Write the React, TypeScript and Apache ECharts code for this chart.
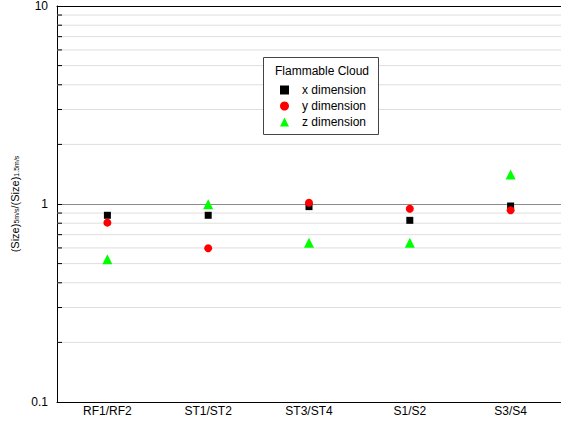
import React, { useEffect, useRef } from "react";
import * as echarts from "echarts";

const categories = ["RF1/RF2", "ST1/ST2", "ST3/ST4", "S1/S2", "S3/S4"];
const xDimension = [0.877, 0.877, 0.97, 0.827, 0.977];
const yDimension = [0.805, 0.598, 1.015, 0.947, 0.93];
const zDimension = [0.526, 0.996, 0.638, 0.638, 1.41];
const minorValues = [0.2, 0.3, 0.4, 0.5, 0.6, 0.7, 0.8, 0.9, 2, 3, 4, 5, 6, 7, 8, 9];
const legendTitle = "Flammable Cloud";

const FONT = "'Liberation Sans', Arial, sans-serif";

export default function App() {
  const ref = useRef<HTMLDivElement>(null);
  useEffect(() => {
    if (!ref.current) return;
    const chart = echarts.init(ref.current, null, { renderer: "svg" });
    chart.setOption({
      animation: false,
      textStyle: { fontFamily: FONT },
      grid: { left: 57, right: -1, top: 5, bottom: 24, containLabel: false },
      graphic: [
        {
          type: "rect",
          left: 263,
          top: 57,
          shape: { width: 115, height: 77 },
          style: { fill: "#fff", stroke: "#444", lineWidth: 1 },
          z: 10,
        },
        {
          type: "text",
          left: 275,
          top: 65,
          style: { text: legendTitle, fontSize: 12, fontFamily: FONT, fill: "#000" },
          z: 11,
        },
      ],
      legend: {
        orient: "vertical",
        left: 275,
        top: 79,
        itemWidth: 9,
        itemHeight: 9,
        itemGap: 4,
        z: 12,
        textStyle: { fontSize: 12, color: "#000", fontFamily: FONT, padding: [0, 0, 0, 8] },
        data: ["x dimension", "y dimension", "z dimension"],
      },
      xAxis: [
        {
          type: "category",
          data: categories,
          position: "bottom",
          axisLine: { lineStyle: { color: "#000" } },
          axisTick: { alignWithLabel: true, inside: true, length: 7, lineStyle: { color: "#000" } },
          axisLabel: { color: "#000", fontSize: 12, margin: 3, fontFamily: FONT },
          splitLine: { show: false },
        },
        {
          type: "category",
          data: categories,
          position: "bottom",
          axisLine: { show: false },
          axisTick: { alignWithLabel: false, inside: true, length: 4, lineStyle: { color: "#000" } },
          axisLabel: { show: false },
          splitLine: { show: false },
        },
        {
          type: "category",
          data: categories,
          position: "top",
          axisLine: { show: true, lineStyle: { color: "#000" } },
          axisTick: { alignWithLabel: true, inside: true, length: 7, lineStyle: { color: "#000" } },
          axisLabel: { show: false },
          splitLine: { show: false },
        },
      ],
      yAxis: {
        type: "log",
        logBase: 10,
        min: 0.1,
        max: 10,
        name: "{a|(Size)}{s|5m/s}{a|/(Size)}{s|1.5m/s}",
        nameLocation: "middle",
        nameRotate: 90,
        nameGap: 34,
        nameTextStyle: {
          rich: {
            a: { fontSize: 11, color: "#000", fontFamily: FONT, lineHeight: 15, verticalAlign: "bottom" },
            s: { fontSize: 7, color: "#000", fontFamily: FONT, lineHeight: 15, verticalAlign: "bottom" },
          },
        },
        axisLine: { show: true, lineStyle: { color: "#000" } },
        axisTick: { show: true, inside: true, length: 5, lineStyle: { color: "#000" } },
        axisLabel: {
          color: "#000",
          fontSize: 12,
          margin: 9,
          fontFamily: FONT,
          formatter: (v: number) => (v >= 10 ? "10" : v >= 1 ? "1" : "0.1"),
        },
        splitLine: { show: true, lineStyle: { color: "#8a8a8a", width: 1 } },
      },
      series: [
        {
          type: "custom",
          z: 1,
          silent: true,
          data: minorValues.map((v) => [0, v]),
          encode: { x: 0, y: 1 },
          renderItem: (params: any, api: any) => {
            const v = api.value(1);
            const y = api.coord([0, v])[1];
            const cs = params.coordSys;
            return {
              type: "group",
              children: [
                {
                  type: "line",
                  shape: { x1: cs.x, y1: y, x2: cs.x + cs.width, y2: y },
                  style: { stroke: "#dedede", lineWidth: 1 },
                },
                {
                  type: "line",
                  shape: { x1: cs.x, y1: y, x2: cs.x + 5, y2: y },
                  style: { stroke: "#000", lineWidth: 1 },
                },
              ],
            };
          },
        },
        {
          name: "x dimension",
          type: "scatter",
          z: 3,
          symbol: "rect",
          symbolSize: 7,
          itemStyle: { color: "#000000", opacity: 1 },
          data: xDimension,
        },
        {
          name: "y dimension",
          type: "scatter",
          z: 4,
          symbol: "circle",
          symbolSize: 8,
          itemStyle: { color: "#ff0000", opacity: 1 },
          data: yDimension,
        },
        {
          name: "z dimension",
          type: "scatter",
          z: 5,
          symbol: "triangle",
          symbolSize: 10,
          itemStyle: { color: "#00ff00", opacity: 1 },
          data: zDimension,
        },
      ],
    });
    return () => chart.dispose();
  }, []);
  return <div ref={ref} style={{ position: "absolute", left: 0, top: 0, width: 561, height: 426 }} />;
}
